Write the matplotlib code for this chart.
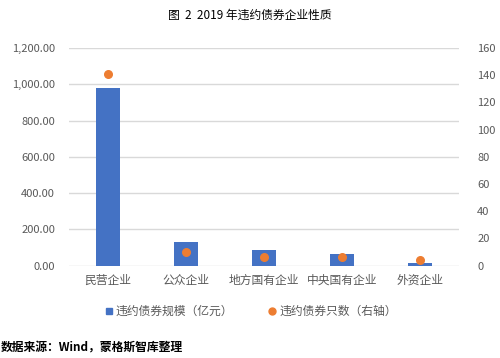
import matplotlib.pyplot as plt
from matplotlib.lines import Line2D

plt.rcParams['font.family'] = ['Noto Sans CJK SC', 'DejaVu Sans']

categories = ['民营企业', '公众企业', '地方国有企业', '中央国有企业', '外资企业']
scale = [981, 128, 86, 62, 15]      # 违约债券规模（亿元）
counts = [141, 10, 6, 6, 4]         # 违约债券只数（右轴）

bar_color = '#4472C4'
dot_color = '#ED7D31'
grey = '#595959'

fig = plt.figure(figsize=(5, 3.58), dpi=100)
ax = fig.add_axes([0.138, 0.258, 0.78, 0.608])
ax2 = ax.twinx()

x = range(len(categories))
ax.bar(x, scale, width=0.31, color=bar_color, zorder=2)
ax2.scatter(x, counts, s=30, color=dot_color, zorder=3)

ax.set_ylim(0, 1200)
ax.set_yticks(range(0, 1201, 200))
ax.set_yticklabels(['{:,.2f}'.format(v) for v in range(0, 1201, 200)])
ax2.set_ylim(0, 160)
ax2.set_yticks(range(0, 161, 20))
ax.set_xlim(-0.5, 4.5)
ax.set_xticks(list(x))
ax.set_xticklabels(categories)

ax.grid(axis='y', color='#d9d9d9', linewidth=1, zorder=0)
for a in (ax, ax2):
    for s in a.spines.values():
        s.set_visible(False)
    a.tick_params(length=0, labelsize=8, colors=grey)
ax.tick_params(axis='y', pad=10)
ax2.tick_params(axis='y', pad=13)
ax.tick_params(axis='x', labelsize=8.5, pad=6)

fig.text(0.5, 0.958, '图  2  2019 年违约债券企业性质', ha='center', va='center', fontsize=8.5)

handles = [Line2D([], [], marker='s', linestyle='none', color=bar_color, markersize=4),
           Line2D([], [], marker='o', linestyle='none', color=dot_color, markersize=5)]
fig.legend(handles, ['违约债券规模（亿元）', '违约债券只数（右轴）'], loc='center',
           bbox_to_anchor=(0.5, 0.13), ncol=2, frameon=False, fontsize=8.5,
           labelcolor=grey, handletextpad=0.1, columnspacing=2.8, handlelength=1)

fig.text(0.002, 0.028, '数据来源：Wind，蒙格斯智库整理', ha='left', va='center',
         fontsize=8.5, fontweight='bold')

fig.savefig('out.png', dpi=100)
